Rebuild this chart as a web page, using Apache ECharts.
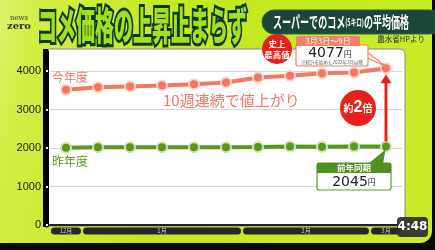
<!DOCTYPE html>
<html><head><meta charset="utf-8">
<script src="https://cdn.jsdelivr.net/npm/echarts@6/dist/echarts.min.js"></script>
<style>html,body{margin:0;padding:0;background:#000}#c{width:435px;height:250px}</style>
</head><body><div id="c"></div>
<script>
// ---- data ----
const categories = ['12/23','12/30','1/6','1/13','1/20','1/27','2/3','2/10','2/17','2/24','3/3'];
const thisYear = [3520, 3585, 3600, 3630, 3660, 3705, 3835, 3885, 3950, 3965, 4077];
const lastYear = [2010, 2020, 2020, 2025, 2025, 2025, 2030, 2045, 2035, 2040, 2045];
const yTicks = [0, 1000, 2000, 3000, 4000];
const yMax = 4500;
const months = ['12月', '1月', '2月', '3月'];
const monthWeeks = [1, 5, 4, 1];

const RED = '#f47762', GREEN = '#5a981c', JP = '"Noto Sans CJK JP"';
const chart = echarts.init(document.getElementById('c'));
chart.setOption({
  backgroundColor: '#080808',
  animation: false,
  grid: { left: 50, right: 33, top: 52, bottom: 25 },
  xAxis: { type: 'category', data: categories, boundaryGap: true,
    axisLine: { lineStyle: { color: '#222', width: 2 } }, axisTick: { show: false }, axisLabel: { show: false } },
  yAxis: { type: 'value', min: yTicks[0], max: yMax, interval: yTicks[1] - yTicks[0], offset: 4,
    axisLine: { show: true, lineStyle: { color: '#000', width: 5 } },
    axisTick: { show: true, inside: true, length: 2, lineStyle: { color: '#fff', width: 2 } },
    axisLabel: { color: '#1a1a1a', fontSize: 11, fontFamily: 'Liberation Sans', margin: 5, showMaxLabel: false,
      formatter: v => String(v) },
    splitLine: { lineStyle: { color: ['#222', '#d6d6d6', '#d6d6d6', '#d6d6d6', '#d6d6d6', 'rgba(0,0,0,0)'], width: 1 } } },
  series: [
    { type: 'line', data: thisYear, z: 4, symbol: 'circle', symbolSize: 10,
      lineStyle: { color: RED, width: 4 }, itemStyle: { color: RED, borderColor: '#fdd3c9', borderWidth: 2 } },
    { type: 'line', data: lastYear, z: 4, symbol: 'circle', symbolSize: 10,
      lineStyle: { color: GREEN, width: 4 }, itemStyle: { color: GREEN, borderColor: '#cfe6b0', borderWidth: 2 } }
  ]
});

const px = (s, i, v) => chart.convertToPixel({ seriesIndex: s }, [i, v]);
const g = [];
// background panel
g.push({ type: 'rect', z: -30, silent: true, shape: { x: -12, y: -12, width: 444, height: 255, r: 12 },
  style: { fill: new echarts.graphic.LinearGradient(0, 0, 1, 0.4, [
    { offset: 0, color: '#e4f47e' }, { offset: 0.12, color: '#d2ee44' }, { offset: 0.45, color: '#c4e81e' }, { offset: 1, color: '#c9ec26' }]) } });
g.push({ type: 'rect', z: -20, silent: true, shape: { x: 48, y: 49, width: 357, height: 177, r: [0, 5, 0, 0] },
  style: { fill: '#fff', stroke: '#8a8a8a', lineWidth: 1 } });
g.push({ type: 'rect', z: -19, silent: true, shape: { x: 43, y: 49, width: 5, height: 178 }, style: { fill: '#000' } });

// month bars
let idx = 0;
months.forEach((m, k) => {
  const a = px(0, idx, 0)[0] - 16 + 1, b = px(0, idx + monthWeeks[k] - 1, 0)[0] + 16 - 1;
  g.push({ type: 'rect', z: 5, shape: { x: a, y: 227.5, width: b - a, height: 7, r: 3.5 }, style: { fill: '#262626' } });
  g.push({ type: 'text', z: 6, x: (a + b) / 2, y: 231.2, style: { text: m, font: '6px ' + JP, fill: '#ccc', textAlign: 'center', textVerticalAlign: 'middle' } });
  idx += monthWeeks[k];
});

// title
g.push({ type: 'text', z: 10, x: 38, y: 25, scaleY: 2.05, style: { text: 'コメ価格の上昇止まらず',
  font: '900 19px ' + JP, fill: '#a6e01c', stroke: '#0c3a2a', lineWidth: 3, strokeFirst: true, textVerticalAlign: 'middle' } });
g.push({ type: 'text', z: 10, x: 19, y: 18, style: { text: 'news', font: '7px "DejaVu Serif"', fill: '#333', textAlign: 'center', textVerticalAlign: 'middle' } });
g.push({ type: 'text', z: 10, x: 19, y: 26, style: { text: 'zero', font: 'bold 10px "DejaVu Serif"', fill: '#333', textAlign: 'center', textVerticalAlign: 'middle' } });

// subtitle pill
g.push({ type: 'rect', z: 10, shape: { x: 262, y: 10, width: 180, height: 24, r: 12 }, style: { fill: '#1c4637', stroke: '#35604f', lineWidth: 1 } });
g.push({ type: 'text', z: 11, x: 273, y: 22, scaleX: 0.86, scaleY: 1.5, style: { text: '{a|スーパーでのコメ}{b|(5キロ)}{a|の平均価格}',
  textVerticalAlign: 'middle', rich: { a: { font: 'bold 10.5px ' + JP, fill: '#fff' }, b: { font: 'bold 6.5px ' + JP, fill: '#fff' } } } });
g.push({ type: 'text', z: 11, x: 425, y: 39, style: { text: '農水省HPより', font: '7.5px ' + JP, fill: '#222', textAlign: 'right', textVerticalAlign: 'middle' } });

// labels
g.push({ type: 'text', z: 10, x: 52, y: 77, style: { text: '今年度', font: '12px ' + JP, fill: RED, textVerticalAlign: 'middle' } });
g.push({ type: 'text', z: 10, x: 52, y: 161, style: { text: '昨年度', font: '12px ' + JP, fill: GREEN, textVerticalAlign: 'middle' } });
g.push({ type: 'text', z: 10, x: 163, y: 100, style: { text: '10週連続で値上がり', font: '15px ' + JP, fill: RED, textVerticalAlign: 'middle' } });

const n = categories.length - 1;
const pR = px(0, n, thisYear[n]), pG = px(1, n, lastYear[n]);
// red arrow
g.push({ type: 'line', z: 6, shape: { x1: pG[0], y1: pG[1] - 5, x2: pR[0], y2: pR[1] + 14 }, style: { stroke: '#e8201a', lineWidth: 3 } });
g.push({ type: 'polygon', z: 6, shape: { points: [[pR[0], pR[1] + 6], [pR[0] - 5.5, pR[1] + 15], [pR[0] + 5.5, pR[1] + 15]] }, style: { fill: '#e8201a' } });
g.push({ type: 'circle', z: 7, shape: { cx: 358, cy: 108, r: 18 }, style: { fill: '#e8201a' } });
g.push({ type: 'text', z: 8, x: 358, y: 108, style: { text: '{s|約}{b|2}{s|倍}', textAlign: 'center', textVerticalAlign: 'middle',
  rich: { s: { font: 'bold 10px ' + JP, fill: '#fff' }, b: { font: 'bold 16px "Liberation Sans"', fill: '#fff' } } } });

// record annotation
g.push({ type: 'circle', z: 7, shape: { cx: 277, cy: 49, r: 15 }, style: { fill: '#e8201a' } });
g.push({ type: 'text', z: 8, x: 277, y: 49, style: { text: '史上\n最高値', font: 'bold 8.5px ' + JP, lineHeight: 11, fill: '#fff', textAlign: 'center', textVerticalAlign: 'middle' } });
g.push({ type: 'polygon', z: 7, shape: { points: [[360, 47], [pR[0], pR[1] - 2], [367, 58]] }, style: { fill: '#fff', stroke: '#f5806a', lineWidth: 1.2 } });
g.push({ type: 'rect', z: 7, shape: { x: 296, y: 45, width: 72, height: 21, r: 2 }, style: { fill: '#fff', stroke: '#f5806a', lineWidth: 1.2 } });
g.push({ type: 'rect', z: 8, shape: { x: 296, y: 36, width: 64, height: 10, r: [2, 2, 0, 0] }, style: { fill: '#f5806a' } });
g.push({ type: 'text', z: 9, x: 328, y: 41, style: { text: '3月3日～9日', font: '8px ' + JP, fill: '#fff', textAlign: 'center', textVerticalAlign: 'middle' } });
g.push({ type: 'text', z: 9, x: 330, y: 53.5, style: { text: '{n|' + thisYear[n] + '}{y|円}', textAlign: 'center', textVerticalAlign: 'middle',
  rich: { n: { font: '14px "DejaVu Sans"', fill: '#222' }, y: { font: '8px ' + JP, fill: '#222' } } } });
g.push({ type: 'text', z: 9, x: 332, y: 62, style: { text: '※統計を始めた2022年3月以降', font: '4.5px ' + JP, fill: '#555', textAlign: 'center', textVerticalAlign: 'middle' } });

// last year annotation
g.push({ type: 'polygon', z: 7, shape: { points: [[368, 164], [pG[0] - 0.5, pG[1] + 3], [383, 164]] }, style: { fill: '#4f9020' } });
g.push({ type: 'rect', z: 7, shape: { x: 317, y: 163, width: 74, height: 27, r: 2 }, style: { fill: '#fff', stroke: '#5a9a2a', lineWidth: 1.2 } });
g.push({ type: 'rect', z: 8, shape: { x: 317, y: 163, width: 74, height: 10 }, style: { fill: '#4f9020' } });
g.push({ type: 'text', z: 9, x: 354, y: 168, style: { text: '前年同期', font: 'bold 8.5px ' + JP, fill: '#fff', textAlign: 'center', textVerticalAlign: 'middle' } });
g.push({ type: 'text', z: 9, x: 354, y: 182, style: { text: '{n|' + lastYear[n] + '}{y|円}', textAlign: 'center', textVerticalAlign: 'middle',
  rich: { n: { font: '14px "DejaVu Sans"', fill: '#222' }, y: { font: '8px ' + JP, fill: '#222' } } } });

// timestamp
g.push({ type: 'rect', z: 20, shape: { x: 397, y: 217, width: 31, height: 20, r: 4 }, style: { fill: 'rgba(45,45,45,0.92)' } });
g.push({ type: 'text', z: 21, x: 412.5, y: 227, style: { text: '4:48', font: 'bold 12px "DejaVu Sans"', fill: '#fff', textAlign: 'center', textVerticalAlign: 'middle' } });

chart.setOption({ graphic: g });
</script></body></html>
